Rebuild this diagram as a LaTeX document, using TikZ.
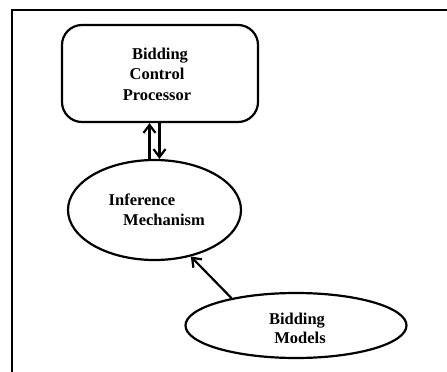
\documentclass[tikz,border=0pt]{standalone}
\usepackage{fontspec}
\setmainfont{Liberation Serif}
\usetikzlibrary{shapes.geometric,arrows.meta}
\begin{document}
\begin{tikzpicture}[x=1pt,y=-1pt,
  lbl/.style={font=\fontsize{16.5}{20}\selectfont\bfseries, inner sep=0pt, anchor=base},
  ln/.style={line width=2.2pt},
  arr/.style={ln, -{Straight Barb[length=8pt,width=12pt,line width=2.2pt]}}]
\useasboundingbox (0,0) rectangle (447,372);
\fill[white] (0,0) rectangle (447,372);
% frame
\draw[line width=2pt] (12,372) -- (12,10) -- (447,10);
% nodes
\node[draw, ln, rounded corners=20pt, minimum width=196pt, minimum height=97pt, inner sep=0pt] (cp) at (160,73.5) {};
\node[draw, ln, ellipse, minimum width=173pt, minimum height=100pt, inner sep=0pt] (im) at (154.5,210) {};
\node[draw, ln, ellipse, minimum width=221pt, minimum height=65pt, inner sep=0pt] (bm) at (296,325.5) {};
% texts
\node[lbl] (t1) at (160,59) {Bidding};
\node[lbl] (t2) at (157,79) {Control};
\node[lbl] (t3) at (157,100) {Processor};
\node[lbl] (t4) at (142,205) {Inference};
\node[lbl] (t5) at (164,225) {Mechanism};
\node[lbl] (t6) at (297,324) {Bidding};
\node[lbl] (t7) at (300,343) {Models};
% connectors
\draw[arr] ([xshift=-5pt]im.north) -- ([xshift=-5pt]im.north |- cp.south);
\draw[arr] ([xshift=5pt]im.north |- cp.south) -- ([xshift=5pt]im.north);
\draw[arr] (bm.157) -- (im.-52);
\end{tikzpicture}
\end{document}
